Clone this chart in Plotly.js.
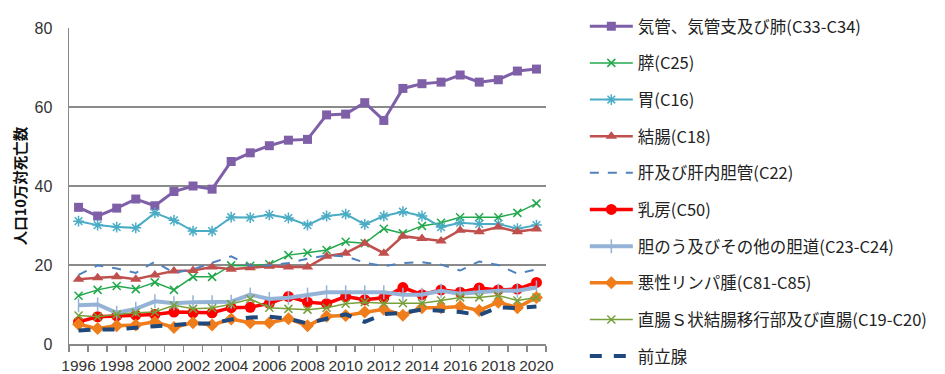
<!DOCTYPE html>
<html><head><meta charset="utf-8">
<script src="https://cdn.plot.ly/plotly-3.0.1.min.js"></script>
<style>html,body{margin:0;padding:0;background:#fff}#chart{width:945px;height:374px}</style>
</head><body><div id="chart"></div>
<script>
const years = [1996,1997,1998,1999,2000,2001,2002,2003,2004,2005,2006,2007,2008,2009,2010,2011,2012,2013,2014,2015,2016,2017,2018,2019,2020];
const tickYears = [1996,1998,2000,2002,2004,2006,2008,2010,2012,2014,2016,2018,2020];
const seriesNames = ['気管、気管支及び肺(C33-C34)','膵(C25)','胃(C16)','結腸(C18)','肝及び肝内胆管(C22)','乳房(C50)','胆のう及びその他の胆道(C23-C24)','悪性リンパ腫(C81-C85)','直腸Ｓ状結腸移行部及び直腸(C19-C20)','前立腺'];
const lung = [34.6,32.4,34.4,36.7,35.0,38.6,40.0,39.2,46.2,48.4,50.2,51.6,51.8,58.0,58.2,61.1,56.6,64.7,65.9,66.3,68.1,66.3,66.9,69.1,69.6];
const pancreas = [12.2,13.7,14.7,13.9,15.6,13.7,17.0,17.0,19.9,19.8,20.2,22.5,23.1,23.8,25.9,25.5,29.2,28.0,29.9,30.7,32.1,32.1,32.1,33.2,35.6];
const stomach = [31.1,30.1,29.6,29.4,33.2,31.3,28.6,28.6,32.1,32.0,32.7,31.9,30.1,32.4,32.9,30.3,32.4,33.5,32.4,29.6,30.7,30.4,30.4,29.2,30.1];
const colon = [16.4,16.8,17.0,16.4,17.5,18.5,18.6,19.5,18.9,19.3,19.7,19.5,19.5,22.2,23.0,25.5,23.0,27.3,26.7,26.1,28.8,28.4,29.6,28.4,29.1];
const liver = [17.5,19.9,19.1,18.0,20.8,18.0,18.9,20.5,22.2,19.8,19.9,20.5,21.6,22.4,22.2,20.6,19.7,20.5,20.7,20.1,18.6,20.9,20.0,17.8,18.9];
const breast = [5.6,6.9,7.1,7.3,7.5,8.1,7.9,7.9,9.2,9.3,10.3,12.0,10.6,10.2,12.0,11.2,11.7,14.3,12.5,13.7,13.1,14.2,13.7,13.9,15.6];
const gallbladder = [9.8,10.0,7.9,8.9,10.8,10.3,10.6,10.6,10.7,12.5,11.4,11.7,12.5,13.1,13.1,13.1,13.1,12.5,12.5,13.5,12.7,13.1,13.5,13.5,14.3];
const lymphoma = [5.0,3.9,4.6,4.8,5.6,4.2,5.4,4.8,6.3,5.4,5.4,6.4,4.6,7.0,7.2,8.1,8.8,7.3,9.2,9.2,9.5,8.5,10.6,9.2,11.8];
const rectum = [7.2,6.9,7.5,7.9,8.1,9.8,8.9,9.1,10.1,11.4,9.2,8.9,8.7,9.2,10.2,10.6,10.3,10.3,10.3,11.0,11.8,11.8,12.3,11.0,11.8];
const prostate = [3.4,3.7,3.7,4.2,4.5,4.8,5.2,5.2,6.2,6.7,6.9,6.4,5.2,6.4,7.5,5.6,7.6,7.9,8.7,8.4,8.1,7.3,9.3,9.1,9.5];

const values = [lung,pancreas,stomach,colon,liver,breast,gallbladder,lymphoma,rectum,prostate];
const styles = [
  {line:{color:'#7F60A8',width:3}, marker:{symbol:'square',size:9,color:'#7F60A8'}, mode:'lines+markers'},
  {line:{color:'#22A84C',width:1.5}, marker:{symbol:'x-thin-open',size:8,color:'#22A84C',line:{width:1.5,color:'#22A84C'}}, mode:'lines+markers'},
  {line:{color:'#4BACC6',width:2}, marker:{symbol:'asterisk-open',size:9,color:'#4BACC6',line:{width:1.5,color:'#4BACC6'}}, mode:'lines+markers'},
  {line:{color:'#C0504D',width:2.5}, marker:{symbol:'triangle-up',size:10,color:'#C0504D'}, mode:'lines+markers'},
  {line:{color:'#4F81BD',width:2,dash:'dash'}, mode:'lines'},
  {line:{color:'#FF0000',width:3.5}, marker:{symbol:'circle',size:11,color:'#FF0000'}, mode:'lines+markers'},
  {line:{color:'#95B3D7',width:4}, marker:{symbol:'line-ns-open',size:10,color:'#95B3D7',line:{width:1.5,color:'#95B3D7'}}, mode:'lines+markers'},
  {line:{color:'#F07D1B',width:3.5}, marker:{symbol:'diamond',size:10,color:'#F07D1B'}, mode:'lines+markers'},
  {line:{color:'#77A03A',width:1.5}, marker:{symbol:'x-thin-open',size:8,color:'#77A03A',line:{width:1.5,color:'#77A03A'}}, mode:'lines+markers'},
  {line:{color:'#1F497D',width:4,dash:'dash'}, mode:'lines'}
];
const data = values.map((v,i)=>Object.assign({
  type:'scatter', x:years, y:v, name:seriesNames[i], legendgroup:'g'+i
}, styles[i]));

const layout = {
  width:945, height:374,
  margin:{l:69,r:397,t:22,b:30},
  paper_bgcolor:'#fff', plot_bgcolor:'#fff',
  font:{family:'"Noto Sans CJK JP", "Liberation Sans", sans-serif', color:'#333'},
  showlegend:true,
  legend:{x:1.0814, xanchor:'left', y:1.05, yanchor:'top', tracegroupgap:12.2, itemwidth:43, maxheight:400,
    font:{size:16.5, family:'"Noto Sans CJK JP", sans-serif', color:'#222'}, bgcolor:'rgba(0,0,0,0)'},
  xaxis:{type:'linear', range:[1995.5,2020.5], tickvals:tickYears, ticktext:tickYears.map(String),
    ticks:'', showgrid:false, zeroline:false, showline:true, linecolor:'#888', linewidth:1.5, ticklabelstandoff:7,
    tickfont:{family:'"Liberation Sans", sans-serif', size:15.5, color:'#333'},
    minor:{ticks:'outside', tick0:1995.5, dtick:1, ticklen:6, tickcolor:'#888', tickwidth:1.5, showgrid:false}},
  yaxis:{range:[0,80], dtick:20, tick0:0, ticks:'', showgrid:true, gridcolor:'#8a8a8a', gridwidth:1.5,
    zeroline:false, showline:true, linecolor:'#888', linewidth:1.5, ticklabelstandoff:12,
    tickfont:{family:'"Liberation Sans", sans-serif', size:16, color:'#333'},
    title:{text:'人口10万対死亡数', standoff:4, font:{size:14.5, family:'"Noto Sans CJK JP", sans-serif', color:'#111', weight:'bold'}}}
};
Plotly.newPlot('chart', data, layout, {displayModeBar:false, staticPlot:true});
</script></body></html>
